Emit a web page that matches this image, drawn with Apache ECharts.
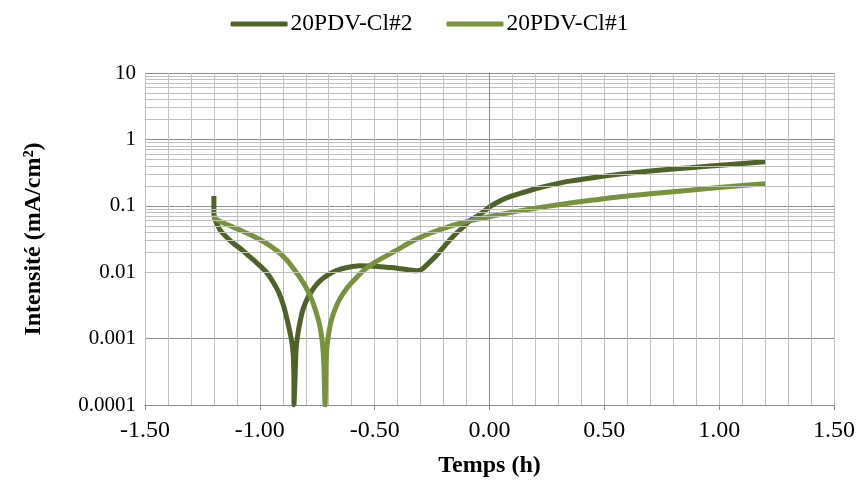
<!DOCTYPE html>
<html>
<head>
<meta charset="utf-8">
<script src="https://cdn.jsdelivr.net/npm/echarts@6/dist/echarts.min.js"></script>
<style>html,body{margin:0;padding:0;background:#fff;}#c{width:859px;height:483px;}</style>
</head>
<body>
<div id="c"></div>
<script>
// ---- data ----
const seriesNames = ['20PDV-Cl#2', '20PDV-Cl#1'];
const timeCl2 = [-1.200,-1.200,-1.195,-1.185,-1.173,-1.150,-1.117,-1.080,-1.043,-1.005,-0.969,-0.943,-0.918,-0.900,-0.885,-0.870,-0.861,-0.855,-0.852,-0.851,-0.849,-0.846,-0.842,-0.834,-0.822,-0.810,-0.790,-0.765,-0.738,-0.700,-0.664,-0.620,-0.564,-0.520,-0.477,-0.440,-0.404,-0.360,-0.317,-0.295,-0.274,-0.230,-0.187,-0.150,-0.114,-0.085,-0.042,0.002,0.045,0.089,0.150,0.205,0.280,0.350,0.450,0.568,0.700,0.873,1.050,1.200];
const intensCl2 = [0.14,0.075,0.062,0.052,0.043,0.035,0.0275,0.022,0.017,0.013,0.0098,0.0072,0.0050,0.0034,0.0022,0.0013,0.0009,0.0006,0.0003,0.0001,0.0001,0.0003,0.0007,0.0012,0.002,0.0029,0.0042,0.0058,0.0074,0.0093,0.0107,0.0118,0.0125,0.0124,0.0121,0.0118,0.0115,0.011,0.0105,0.011,0.0128,0.018,0.027,0.037,0.048,0.060,0.074,0.097,0.118,0.137,0.160,0.182,0.21,0.235,0.265,0.30,0.335,0.375,0.42,0.46];
const timeCl1 = [-1.200,-1.195,-1.173,-1.130,-1.086,-1.030,-0.970,-0.925,-0.883,-0.854,-0.825,-0.800,-0.782,-0.765,-0.750,-0.738,-0.728,-0.721,-0.716,-0.712,-0.707,-0.700,-0.690,-0.672,-0.651,-0.620,-0.593,-0.550,-0.500,-0.404,-0.330,-0.259,-0.190,-0.114,-0.050,0.002,0.089,0.150,0.250,0.350,0.450,0.568,0.700,0.873,1.050,1.200];
const intensCl1 = [0.072,0.065,0.058,0.050,0.043,0.035,0.027,0.021,0.0153,0.0114,0.0083,0.0060,0.0045,0.0032,0.0022,0.0015,0.0009,0.0004,0.0001,0.0004,0.0008,0.0012,0.0018,0.0028,0.0040,0.0058,0.0074,0.0105,0.0140,0.0215,0.030,0.0386,0.047,0.056,0.063,0.069,0.079,0.086,0.098,0.110,0.122,0.137,0.152,0.172,0.195,0.215];
const yMin = 0.0001, yMax = 10;
const xMin = -1.5, xMax = 1.5, xStep = 0.5;
const minorMultipliers = [2,3,4,5,6,7,8,9];
const minorDecades = [0.0001,0.001,0.01,0.1,1];

const colors = ['#4F6228', '#77933C'];
const FONT = '"Liberation Serif", "Times New Roman", serif';
const FS = 24;

const minorLines = [];
minorDecades.forEach(d => minorMultipliers.forEach(m => minorLines.push({yAxis: +(d*m).toPrecision(2)})));

const pairs = (xs, ys) => xs.map((x, i) => [x, ys[i]]);

const chart = echarts.init(document.getElementById('c'), null, {renderer: 'canvas'});
chart.setOption({
  animation: false,
  backgroundColor: '#fff',
  legend: {
    data: seriesNames,
    top: 7,
    left: 'center',
    itemWidth: 57,
    itemHeight: 5,
    itemGap: 34,
    icon: 'roundRect',
    textStyle: {fontFamily: FONT, fontSize: 23.5, color: '#000', padding: [0,0,0,-2]}
  },
  grid: {left: 145, right: 25, top: 73, bottom: 78, containLabel: false},
  xAxis: {
    type: 'value', min: xMin, max: xMax, interval: xStep,
    name: 'Temps (h)', nameLocation: 'middle', nameGap: 49,
    nameTextStyle: {fontFamily: FONT, fontSize: FS, fontWeight: 'bold', color: '#000'},
    axisLine: {onZero: false, lineStyle: {color: '#8c8c8c', width: 1}},
    axisTick: {show: true, length: 5, lineStyle: {color: '#8c8c8c'}},
    axisLabel: {fontFamily: FONT, fontSize: FS, color: '#000', margin: 14, formatter: v => v.toFixed(2)},
    splitLine: {show: true, lineStyle: {color: '#c0c0c0', width: 1}},
    minorTick: {show: false, splitNumber: 5},
    minorSplitLine: {show: true, lineStyle: {color: '#c0c0c0', width: 1}}
  },
  yAxis: {
    type: 'log', logBase: 10, min: yMin, max: yMax,
    name: 'Intensité (mA/cm²)', nameLocation: 'middle', nameGap: 99,
    nameTextStyle: {fontFamily: FONT, fontSize: FS, fontWeight: 'bold', color: '#000'},
    axisLine: {show: true, lineStyle: {color: '#8c8c8c', width: 1}},
    axisTick: {show: true, length: 5, lineStyle: {color: '#8c8c8c'}},
    axisLabel: {fontFamily: FONT, fontSize: 21, color: '#000', margin: 9,
      formatter: v => String(Number(Number(v).toPrecision(1)))},
    splitLine: {show: true, lineStyle: {color: '#8c8c8c', width: 1}}
  },
  series: [
    {
      type: 'line', name: '_grid', data: [], z: 1, silent: true, legendHoverLink: false,
      markLine: {
        silent: true, symbol: ['none','none'], label: {show: false}, animation: false,
        lineStyle: {color: '#c0c0c0', width: 1, type: 'solid'},
        data: minorLines.concat([{xAxis: 0, lineStyle: {color: '#8c8c8c', width: 1, type: 'solid'}}])
      }
    },
    {
      type: 'line', name: seriesNames[0], data: pairs(timeCl2, intensCl2), z: 3,
      showSymbol: false, smooth: 0.3, color: colors[0],
      lineStyle: {width: 5, color: colors[0]}
    },
    {
      type: 'line', name: seriesNames[1], data: pairs(timeCl1, intensCl1), z: 4,
      showSymbol: false, smooth: 0.3, color: colors[1],
      lineStyle: {width: 5, color: colors[1]}
    }
  ]
});
</script>
</body>
</html>
